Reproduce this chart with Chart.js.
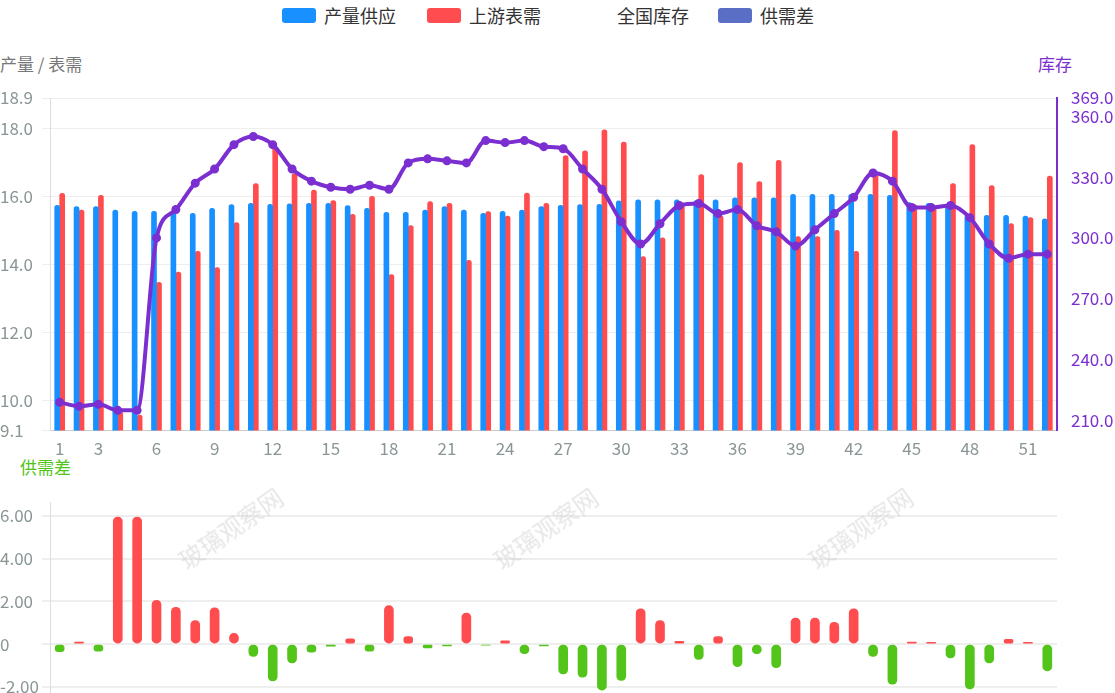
<!DOCTYPE html>
<html><head><meta charset="utf-8">
<script src="https://cdn.jsdelivr.net/npm/chart.js@4"></script>
<style>
body{margin:0;width:1115px;height:693px;overflow:hidden;background:#fff;font-family:"Noto Sans CJK SC","Noto Sans",sans-serif;position:relative}
.t{position:absolute;font-size:17px;white-space:nowrap}
#c1{position:absolute;left:0;top:80px}
#c2{position:absolute;left:0;top:480px}
.wm{position:absolute;font-size:24px;color:rgba(200,200,200,0.45);transform:rotate(-35deg);white-space:nowrap}
.lg{position:absolute;top:2px;font-size:18px;color:#333;display:flex;align-items:center}
.lg i{display:inline-block;width:34px;height:15px;border-radius:3px;margin-right:8px}
</style></head><body>
<div class="lg" style="left:282px"><i style="background:#1890ff"></i>产量供应</div>
<div class="lg" style="left:427px"><i style="background:#ff4d4f"></i>上游表需</div>
<div class="lg" style="left:575px"><i style="background:transparent"></i>全国库存</div>
<div class="lg" style="left:718px"><i style="background:#5b6ec6"></i>供需差</div>
<div class="t" style="left:0;top:51px;color:#777">产量 / 表需</div>
<div class="t" style="left:1038px;top:51px;color:#7b2fd0">库存</div>
<div class="t" style="left:20px;top:454px;color:#52c41a">供需差</div>
<canvas id="c1" width="1115" height="379"></canvas>
<canvas id="c2" width="1115" height="238"></canvas>
<div class="wm" style="left:170px;top:510px">玻璃观察网</div>
<div class="wm" style="left:485px;top:510px">玻璃观察网</div>
<div class="wm" style="left:800px;top:510px">玻璃观察网</div>
<script>
const weeks = Array.from({length:52},(_,i)=>String(i+1));
const supply = [15.74,15.7,15.7,15.6,15.56,15.56,15.55,15.5,15.65,15.76,15.8,15.77,15.78,15.8,15.8,15.73,15.65,15.53,15.53,15.6,15.7,15.6,15.5,15.56,15.6,15.7,15.74,15.76,15.77,15.87,15.9,15.9,15.9,15.88,15.9,15.96,15.96,15.96,16.06,16.06,16.06,16.06,16.06,16.03,15.82,15.8,15.77,15.44,15.44,15.44,15.42,15.34];
const demand = [16.09,15.6,16.03,9.65,9.56,13.47,13.77,14.38,13.9,15.23,16.38,17.47,16.67,16.19,15.88,15.47,16.0,13.7,15.14,15.85,15.8,14.12,15.55,15.42,16.1,15.8,17.2,17.34,17.96,17.6,14.23,14.78,15.76,16.64,15.43,17.0,16.44,17.06,14.82,14.82,15.0,14.38,16.66,17.94,15.76,15.72,16.38,17.53,16.32,15.2,15.38,16.6];
const stock = [219,217,218,215,215,300,314,327,334,346,350,346,334,328,325,324,326,324,337,339,338,337,348,347,348,345,344,334,324,308,297,307,316,317,312,314,306,303,296,304,312,320,332,328,315,315,316,310,297,290,292,292];
const gap = [-0.35,0.1,-0.33,5.95,5.95,2.05,1.72,1.1,1.7,0.5,-0.58,-1.72,-0.88,-0.38,-0.1,0.25,-0.33,1.8,0.35,-0.18,-0.08,1.45,-0.05,0.15,-0.45,-0.08,-1.4,-1.55,-2.15,-1.7,1.65,1.1,0.13,-0.72,0.35,-1.05,-0.45,-1.1,1.22,1.22,1.02,1.65,-0.58,-1.88,0.1,0.08,-0.65,-2.1,-0.88,0.22,0.08,-1.25];
const leftTicks = [9.1,10,12,14,16,18,18.9];
const rightTicks = [210,240,270,300,330,360,369];
const gapTicks = [-2,0,2,4,6];

Chart.defaults.animation = false;
Chart.defaults.font.family = '"Noto Sans CJK SC","Noto Sans",sans-serif';
const grey = '#8a9696';

new Chart(document.getElementById('c1'), {
  data: { labels: weeks, datasets: [
    {type:'line', data: stock, yAxisID:'y1', borderColor:'#7b2fd0', backgroundColor:'#7b2fd0', borderWidth:4, pointRadius:2.5, tension:0.4, cubicInterpolationMode:'monotone', order:0},
    {type:'bar', data: supply, backgroundColor:'#1890ff', barThickness:5, borderRadius:{topLeft:3,topRight:3}, borderSkipped:'bottom', order:1},
    {type:'bar', data: demand, backgroundColor:'#ff4d4f', barThickness:5, borderRadius:{topLeft:3,topRight:3}, borderSkipped:'bottom', order:1}
  ]},
  options: { responsive:false, layout:{padding:{left:0,right:0,top:18,bottom:0}},
    plugins:{legend:{display:false}, tooltip:{enabled:false}},
    scales:{
      x:{ grid:{display:false}, border:{color:'#ccc'},
        ticks:{color:grey, font:{size:17}, autoSkip:false, maxRotation:0, padding:0,
          callback:(v,i)=> (i===0 || (i+1)%3===0) ? weeks[i] : ''}},
      y:{ min:9.1, max:18.9, afterBuildTicks:a=>{a.ticks=leftTicks.map(v=>({value:v}));},
        afterFit:a=>{a.width=50;},
        grid:{color:'#eeeeee'}, border:{color:'#ddd'},
        ticks:{color:grey, font:{size:17}, crossAlign:'far', padding:4, callback:v=>Number(v).toFixed(1)}},
      y1:{ position:'right', min:205, max:369, afterBuildTicks:a=>{a.ticks=rightTicks.map(v=>({value:v}));},
        afterFit:a=>{a.width=58;},
        grid:{display:false}, border:{color:'#7b2fd0', width:2},
        ticks:{color:'#7b2fd0', font:{size:17}, padding:6, callback:v=>Number(v).toFixed(1)}}
    }}
});

new Chart(document.getElementById('c2'), {
  type:'bar',
  data:{ labels: weeks, datasets:[{ data: gap,
    backgroundColor: gap.map(v=> v>=0 ? '#ff4d4f' : '#52c41a'),
    barThickness:9, borderRadius:5, borderSkipped:false }]},
  options:{ responsive:false, layout:{padding:{top:22,bottom:0,right:58}},
    plugins:{legend:{display:false}, tooltip:{enabled:false}},
    scales:{
      x:{ display:false },
      y:{ min:-2.84, max:6.65, afterBuildTicks:a=>{a.ticks=gapTicks.map(v=>({value:v}));},
        afterFit:a=>{a.width=50;},
        grid:{color:'#eeeeee', lineWidth:2}, border:{color:'#ddd'},
        ticks:{color:grey, font:{size:17}, crossAlign:'far', callback:v=> v===0 ? '0' : Number(v).toFixed(2)}},
    }
  }
});
</script>
</body></html>
